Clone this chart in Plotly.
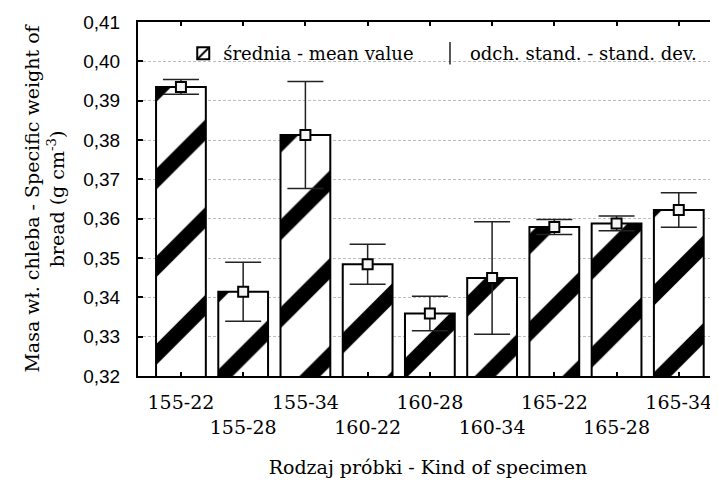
import plotly.graph_objects as go

categories = ["155-22", "155-28", "155-34", "160-22", "160-28",
              "160-34", "165-22", "165-28", "165-34"]
mean_values = [0.3935, 0.3414, 0.3813, 0.3484, 0.3359,
               0.3449, 0.3579, 0.3588, 0.3622]
std_dev = [0.0019, 0.0075, 0.0136, 0.0051, 0.0044,
           0.0143, 0.0019, 0.0019, 0.0044]
y_tick_values = [0.32, 0.33, 0.34, 0.35, 0.36, 0.37, 0.38, 0.39, 0.40, 0.41]

stagger_labels = [c if i % 2 == 0 else "<br>" + c for i, c in enumerate(categories)]

SERIF = "DejaVu Serif"
SANS = "Liberation Sans"

fig = go.Figure()

fig.add_trace(go.Bar(
    x=categories, y=mean_values, width=0.8,
    name="średnia - mean value\u00a0\u00a0",
    marker=dict(
        color="white",
        line=dict(color="black", width=2),
        pattern=dict(shape="/", fgcolor="black", bgcolor="white",
                     size=62, solidity=0.24, fillmode="replace"),
    ),
    showlegend=True,
))

fig.add_trace(go.Scatter(
    x=categories, y=mean_values, mode="markers",
    marker=dict(symbol="square", size=10, color="#f4f4f4",
                line=dict(color="black", width=2)),
    error_y=dict(type="data", array=std_dev, visible=True,
                 color="#222222", thickness=1.5, width=18),
    showlegend=False,
))

fig.add_trace(go.Scatter(
    x=[None], y=[None], mode="markers",
    name="odch. stand. - stand. dev.",
    marker=dict(symbol="line-ns", size=16, color="#222222",
                line=dict(color="#222222", width=1.5)),
    showlegend=True,
))

# the page body keeps an 8px margin, so the figure is 8px smaller than the window
fig.update_layout(
    width=710, height=474,
    margin=dict(l=130, r=0, t=14, b=106, pad=0),
    paper_bgcolor="white", plot_bgcolor="white",
    separators=", ",
    font=dict(family=SERIF, size=19, color="black"),
    legend=dict(
        orientation="h", x=0.078, y=0.963, xanchor="left", yanchor="top",
        bgcolor="rgba(0,0,0,0)", font=dict(family=SERIF, size=18),
        traceorder="normal",
    ),
    xaxis=dict(
        type="category", range=[-0.69, 8.63],
        tickmode="array", tickvals=categories, ticktext=stagger_labels,
        tickangle=0,
        ticks="inside", ticklen=4, tickwidth=1.5, tickcolor="black",
        showline=True, linecolor="black", linewidth=2, mirror="ticks",
        showgrid=False, ticklabelstandoff=8,
        tickfont=dict(family=SERIF, size=19),
        title=dict(text="Rodzaj próbki - Kind of specimen",
                   font=dict(family=SERIF, size=19), standoff=24),
        automargin=False,
    ),
    yaxis=dict(
        range=[0.32, 0.41], tickmode="array", tickvals=y_tick_values,
        tickformat=".2f",
        ticks="inside", ticklen=5, tickwidth=1.5, tickcolor="black",
        showline=True, linecolor="black", linewidth=2, mirror=False,
        showgrid=True, gridcolor="#bdbdbd", gridwidth=1, griddash="3px,2px",
        zeroline=False, ticklabelstandoff=12,
        tickfont=dict(family=SANS, size=19),
        title=dict(text="Masa wł. chleba - Specific weight of<br>bread (g cm<sup>-3</sup>)",
                   font=dict(family=SERIF, size=19), standoff=14),
        automargin=False,
    ),
)

fig.write_html("out.html")
